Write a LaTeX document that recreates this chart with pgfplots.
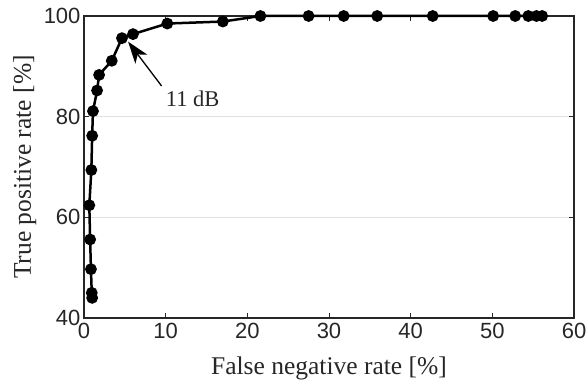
\documentclass[border=0pt]{standalone}
\usepackage{pgfplots}
\pgfplotsset{compat=1.18}
\usepackage{fontspec}
\setmainfont{Liberation Serif}
\newfontfamily\arial{Liberation Sans}
\usetikzlibrary{arrows.meta}
\definecolor{axgray}{RGB}{38,38,38}
\definecolor{gridgray}{RGB}{225,225,225}
\begin{document}
\begin{tikzpicture}
\begin{axis}[
  scale only axis,
  width=490pt, height=302pt,
  xmin=0, xmax=60, ymin=40, ymax=100,
  xtick={0,10,...,60}, ytick={40,60,80,100},
  tick align=inside,
  major tick length=5pt,
  axis line style={line width=1.3pt, color=axgray},
  every tick/.style={line width=1pt, color=axgray},
  ymajorgrids,
  grid style={line width=1.4pt, color=gridgray},
  /pgf/number format/assume math mode=true,
  xticklabel style={font=\arial\fontsize{22}{22}\selectfont, text=axgray, yshift=-2pt},
  yticklabel style={font=\arial\fontsize{22}{22}\selectfont, text=axgray},
  every axis x label/.style={at={(axis description cs:0.5,0)}, anchor=base, yshift=-57pt,
    font=\fontsize{25.5}{26}\selectfont, text=axgray},
  every axis y label/.style={at={(axis description cs:0,0.5)}, anchor=base, rotate=90, yshift=53pt,
    font=\fontsize{25.5}{26}\selectfont, text=axgray},
  xlabel={False negative rate [\%]},
  ylabel={True positive rate [\%]},
  clip=false,
]
\addplot[black, line width=2.5pt, mark=*, mark size=4.6pt, mark options={fill=black}] coordinates {
(1.0,44.0) (0.95,45.0) (0.85,49.7) (0.75,55.6) (0.65,62.4) (0.9,69.4) (1.0,76.2) (1.1,81.1)
(1.6,85.2) (1.85,88.3) (3.4,91.1) (4.65,95.6) (6.0,96.4) (10.2,98.5) (17.0,98.9)
(21.6,100) (27.5,100) (31.8,100) (35.9,100) (42.7,100) (50.1,100) (52.8,100) (54.4,100) (55.4,100) (56.1,100)
};
\draw[line width=1.3pt, -{Stealth[length=22pt,width=15pt,inset=6pt]}] (axis cs:9.5,86.1) -- (axis cs:5.4,94.9);
\node[font=\fontsize{22.5}{23}\selectfont, text=axgray] at (axis cs:13.3,83.5) {11 dB};
\coordinate (ll) at (rel axis cs:0,0);
\coordinate (ur) at (rel axis cs:1,1);
\end{axis}
\pgfresetboundingbox
\path ([shift={(-84pt,-66pt)}]ll) rectangle ([shift={(12pt,16pt)}]ur);
\end{tikzpicture}
\end{document}
